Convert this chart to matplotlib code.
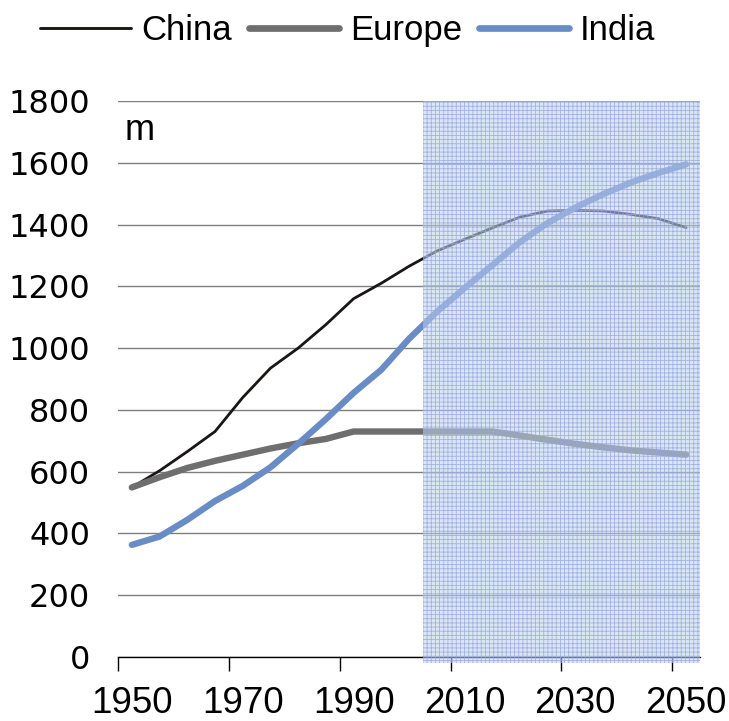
import matplotlib
matplotlib.use("Agg")
import matplotlib.pyplot as plt
from matplotlib.lines import Line2D

# Population, millions, 5-year steps
years = list(range(1950, 2051, 5))
china = [549, 603, 665, 730, 840, 935, 1000, 1076, 1160, 1210, 1265,
         1314, 1352, 1389, 1424, 1444, 1446, 1444, 1433, 1419, 1390]
europe = [549, 582, 612, 635, 655, 675, 692, 706, 730, 730, 730,
          730, 730, 730, 717, 703, 690, 679, 669, 662, 655]
india = [363, 390, 444, 505, 554, 614, 690, 770, 855, 930, 1030,
         1117, 1194, 1268, 1343, 1405, 1455, 1498, 1536, 1567, 1595]

series_names = ["China", "Europe", "India"]
series_colors = ["#1a1616", "#6e6e6e", "#6a8cc6"]
series_widths = [2.0, 4.6, 4.6]

label_years = [1950, 1970, 1990, 2010, 2030, 2050]
y_ticks = [0, 200, 400, 600, 800, 1000, 1200, 1400, 1600, 1800]
projection_start = 2002.5
x_min, x_max = 1947.5, 2052.5

sans = ["Liberation Sans", "DejaVu Sans"]

fig = plt.figure(figsize=(7.29, 7.21), dpi=100)
ax = fig.add_axes([118 / 729, 1 - 657 / 721, 582 / 729, 556 / 721])

for vals, name, col, lw in zip([china, europe, india], series_names,
                               series_colors, series_widths):
    ax.plot(years, vals, color=col, lw=lw, solid_capstyle="round",
            solid_joinstyle="round", zorder=3, label=name)

# projection period shading
plt.rcParams["hatch.linewidth"] = 0.6
ax.axvspan(projection_start, x_max, ymin=-0.01, ymax=1.0,
           facecolor=(0.76, 0.82, 0.93, 0.55),
           edgecolor=(0.56, 0.66, 0.86, 0.8),
           hatch="++++", linewidth=0, zorder=4, clip_on=False)

ax.set_xlim(x_min, x_max)
ax.set_ylim(0, 1800)

ax.set_yticks(y_ticks)
ax.set_yticklabels([str(v) for v in y_ticks], fontsize=23,
                   family="DejaVu Sans")
ax.tick_params(axis="y", length=0, pad=20)

ax.set_xticks([x_min + 20 * k for k in range(6)])
ax.set_xticklabels([])
ax.set_xticks(label_years, minor=True)
ax.set_xticklabels([str(y) for y in label_years], minor=True,
                   fontsize=26.5, family=sans)
ax.tick_params(axis="x", which="major", length=10, width=1.0,
               direction="out", color="black")
ax.tick_params(axis="x", which="minor", length=0, pad=21)

ax.grid(axis="y", color="#7f7f7f", lw=1.0, zorder=1)
ax.set_axisbelow(True)
for side in ["left", "right", "top"]:
    ax.spines[side].set_visible(False)
ax.spines["bottom"].set_color("black")
ax.spines["bottom"].set_linewidth(1.0)
ax.spines["bottom"].set_zorder(2)

ax.text(0.012, 0.93, "m", transform=ax.transAxes, fontsize=26,
        family=sans, ha="left", va="baseline")

handles = [Line2D([], [], color=c, lw=w * 1.05, solid_capstyle="round")
           for c, w in zip(series_colors, series_widths)]
fig.legend(handles, series_names, loc="upper center",
           bbox_to_anchor=(0.477, 1.024), ncol=3, frameon=False,
           prop={"family": sans, "size": 25},
           handlelength=2.6, handletextpad=0.3, columnspacing=0.5)

fig.savefig("out.png", dpi=100)
